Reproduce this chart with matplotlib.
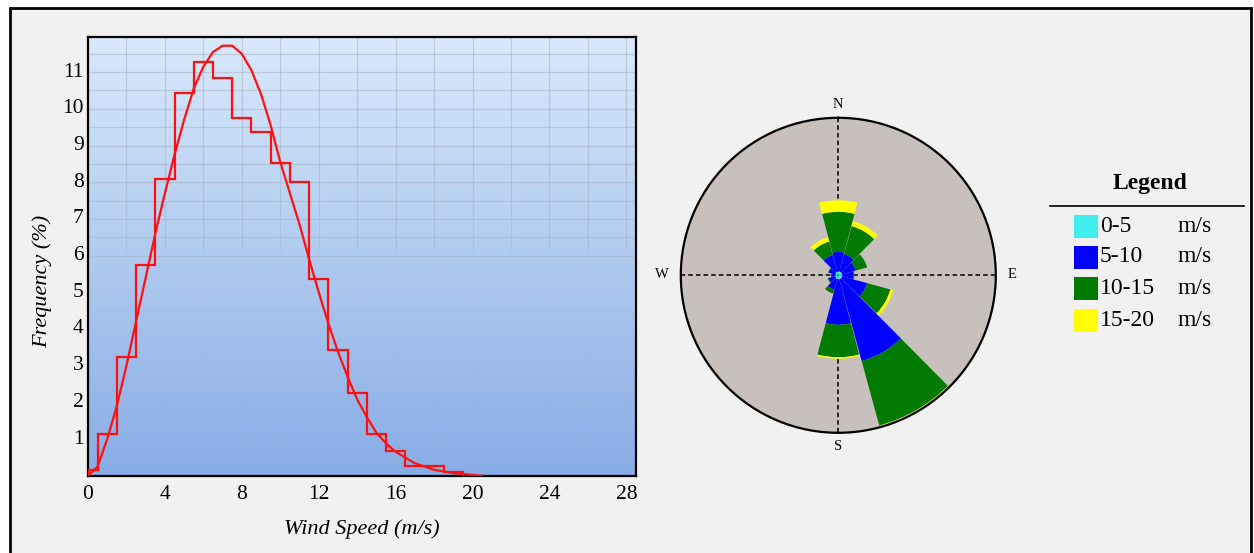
import numpy as np
import matplotlib
matplotlib.use("Agg")
import matplotlib.pyplot as plt
from matplotlib.colors import LinearSegmentedColormap
from matplotlib.patches import Rectangle
from matplotlib.lines import Line2D

plt.rcParams['font.family'] = ['Liberation Serif', 'DejaVu Serif']

# ---------------- data ----------------
# histogram of wind speed (bin edges in m/s, frequency in %)
bin_edges = [0, 0.5, 1.5, 2.5, 3.5, 4.5, 5.5, 6.5, 7.5, 8.5, 9.5,
             10.5, 11.5, 12.5, 13.5, 14.5, 15.5, 16.5, 17.5, 18.5, 19.5]
hist_freq = [0.15, 1.15, 3.24, 5.75, 8.08, 10.44, 11.29, 10.83, 9.75, 9.36,
             8.53, 8.01, 5.35, 3.43, 2.26, 1.14, 0.67, 0.27, 0.27, 0.10]

# fitted distribution curve
curve_x = [0, 0.5, 1, 1.5, 2, 2.5, 3, 3.5, 4, 4.5, 5, 5.5, 6, 6.5, 7, 7.5,
           8, 8.5, 9, 9.5, 10, 10.5, 11, 11.5, 12, 12.5, 13, 13.5, 14, 14.5,
           15, 15.5, 16, 17, 18, 19, 20, 20.5]
curve_y = [0, 0.25, 1.0, 1.9, 3.0, 4.2, 5.4, 6.6, 7.7, 8.75, 9.7, 10.55,
           11.15, 11.55, 11.72, 11.72, 11.5, 11.05, 10.4, 9.55, 8.55, 7.7,
           6.85, 5.9, 5.0, 4.15, 3.38, 2.7, 2.08, 1.6, 1.17, 0.88, 0.65,
           0.34, 0.16, 0.07, 0.02, 0.0]

x_ticks = [0, 4, 8, 12, 16, 20, 24, 28]
y_ticks = [1, 2, 3, 4, 5, 6, 7, 8, 9, 10, 11]

# wind rose: direction (deg) and frequency (%) by speed class
directions = [0, 30, 60, 90, 120, 150, 180, 210, 240, 270, 300, 330]
speed_classes = ['0-5', '5-10', '10-15', '15-20']
freq_0_5 = [0.7, 0.7, 0.7, 0.7, 0.7, 0.7, 0.7, 0.7, 0.55, 0.55, 0.55, 0.7]
freq_5_10 = [3.47, 3.2, 2.49, 1.96, 4.62, 15.1, 8.09, 1.96, 1.24, 0.71, 1.24, 3.02]
freq_10_15 = [7.13, 5.16, 2.13, 0.18, 4.27, 11.9, 5.78, 0.71, 0.18, 0.0, 0.09, 2.49]
freq_15_20 = [2.03, 0.89, 0.0, 0.0, 0.53, 0.36, 0.27, 0.0, 0.0, 0.0, 0.0, 0.8]
class_colors = ['#40eeee', '#0000ff', '#007a00', '#ffff00']

W, H = 1254, 553
fig = plt.figure(figsize=(W / 100, H / 100), dpi=100)
fig.patch.set_facecolor('white')

def fx(px):
    return px / W

def fy(py):
    return 1 - py / H

# outer frame
fig.add_artist(Rectangle((fx(10), -0.05), fx(1251) - fx(10), fy(8) + 0.05,
                         transform=fig.transFigure, facecolor='#f1f1f1',
                         edgecolor='black', linewidth=2, zorder=0))

# ---------------- histogram ----------------
ax = fig.add_axes([fx(88), fy(475.7), fx(636) - fx(88), fy(37.3) - fy(475.7)])
xmax, ymax = 28.5, 11.95
cmap = LinearSegmentedColormap.from_list('bg', ['#88ace6', '#b0cbf0', '#d9e9fb'])
grad = np.linspace(0, 1, 256).reshape(-1, 1)
ax.imshow(grad, extent=[0, xmax, 0, ymax], origin='lower', aspect='auto',
          cmap=cmap, zorder=0)
gc = '#a9b3c4'
for gx in np.arange(2, 29, 2):
    ax.plot([gx, gx], [6.2, ymax], color=gc, lw=0.9, alpha=0.55, zorder=1)
    ax.plot([gx, gx], [0, 6.2], color=gc, lw=0.9, alpha=0.12, zorder=1)
for gy in np.arange(6.0, 11.95, 0.5):
    ax.plot([0, xmax], [gy, gy], color=gc, lw=0.9, alpha=0.55, zorder=1)
for gy in np.arange(0.5, 6.0, 0.5):
    ax.plot([0, xmax], [gy, gy], color=gc, lw=0.9, alpha=0.1, zorder=1)

ax.stairs(hist_freq, bin_edges, color='#ff1010', lw=1.6, zorder=3)
ax.plot(curve_x, curve_y, color='#ff1010', lw=1.6, zorder=4)

ax.set_xlim(0, xmax)
ax.set_ylim(0, ymax)
ax.set_xticks(x_ticks)
ax.set_yticks(y_ticks)
ax.tick_params(length=0, labelsize=15.5)
ax.tick_params(axis='y', pad=3)
ax.tick_params(axis='x', pad=7)
for lbl in ax.get_yticklabels():
    lbl.set_verticalalignment('center')
for s in ax.spines.values():
    s.set_linewidth(1.6)
    s.set_color('black')
ax.set_xlabel('Wind Speed (m/s)', fontsize=16, style='italic', labelpad=11)
fig.text(fx(42), fy(281), 'Frequency (%)', rotation=90, ha='center', va='center',
         fontsize=16, style='italic')

# ---------------- wind rose ----------------
cx, cy, rad = 838.3, 275.3, 157.5
pax = fig.add_axes([fx(cx - rad), fy(cy + rad), fx(2 * rad), fy(cy - rad) - fy(cy + rad)],
                   projection='polar')
pax.set_theta_zero_location('N')
pax.set_theta_direction(-1)
rmax = 28
pax.set_ylim(0, rmax)
pax.set_facecolor('#c8c0bc')
pax.grid(False)
pax.set_xticks([])
pax.set_yticks([])
pax.spines['polar'].set_linewidth(1.6)
pax.spines['polar'].set_color('black')

for ang in [0, 90, 180, 270]:
    t = np.deg2rad(ang)
    pax.plot([t, t], [0, rmax], color='black', lw=1.1, ls=(0, (3, 2)), zorder=1)

theta = np.deg2rad(directions)
width = np.deg2rad(29.5)
bottom = np.zeros(len(directions))
for vals, col in zip([freq_0_5, freq_5_10, freq_10_15, freq_15_20], class_colors):
    v = np.array(vals)
    pax.bar(theta, v, width=width, bottom=bottom, color=col, edgecolor='none', zorder=2)
    bottom = bottom + v

for lab, (px_, py_) in {'N': (838, 104), 'S': (838, 446), 'W': (662, 275),
                        'E': (1012, 275)}.items():
    fig.text(fx(px_), fy(py_), lab, ha='center', va='center', fontsize=10.5)

# ---------------- legend ----------------
fig.text(fx(1150), fy(183), 'Legend', ha='center', va='center', fontsize=17,
         fontweight='bold')
fig.add_artist(Line2D([fx(1050), fx(1244)], [fy(206), fy(206)], color='black',
                      lw=1.2, transform=fig.transFigure))
row_y = [226.5, 257, 288.5, 320]
for lab, col, ry in zip(speed_classes, class_colors, row_y):
    fig.add_artist(Rectangle((fx(1074), fy(ry + 11.5)), fx(23.5), fy(0) - fy(23),
                             transform=fig.transFigure, facecolor=col,
                             edgecolor='none'))
    fig.text(fx(1100), fy(ry), lab, ha='left', va='center', fontsize=17)
    fig.text(fx(1178), fy(ry), 'm/s', ha='left', va='center', fontsize=17)

fig.savefig('out.png', dpi=100)
